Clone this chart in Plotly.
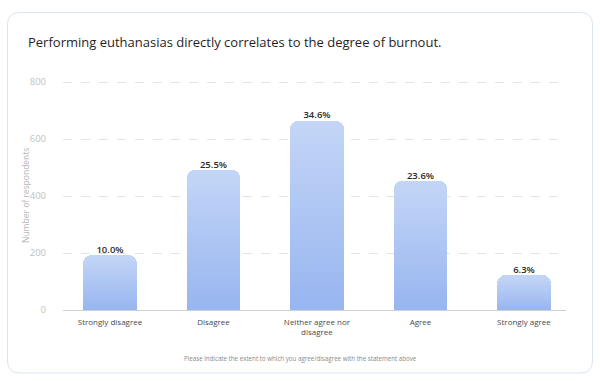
import plotly.graph_objects as go

categories = ["Strongly disagree", "Disagree", "Neither agree nor<br>disagree", "Agree", "Strongly agree"]
respondents = [192, 490, 664, 453, 121]
percent_labels = ["10.0%", "25.5%", "34.6%", "23.6%", "6.3%"]
y_ticks = [0, 200, 400, 600, 800]

TITLE = "Performing euthanasias directly correlates to the degree of burnout."
X_TITLE = "Please indicate the extent to which you agree/disagree with the statement above"
Y_TITLE = "Number of respondents"

W, H = 600, 381
L, R, T, B = 63, 34, 79, 71
FONT = "Open Sans"
Y_MAX = 800 * 231 / 228

xs = list(range(len(categories)))

def lerp(c1, c2, t):
    return "rgb(%d,%d,%d)" % tuple(round(a + (b - a) * t) for a, b in zip(c1, c2))

bottom_col = (151, 181, 239)
top_col = (196, 214, 247)
NSEG = 24

fig = go.Figure()
for i in range(NSEG):
    t = (i + 0.5) / NSEG
    fig.add_trace(go.Bar(
        x=xs, y=[v / NSEG for v in respondents],
        width=0.52, marker=dict(color=lerp(bottom_col, top_col, t), line=dict(width=0)),
        showlegend=False, hoverinfo="skip"))

fig.add_trace(go.Scatter(
    x=xs, y=respondents, mode="text", text=percent_labels,
    textposition="top center",
    textfont=dict(family=FONT, size=9.5, color="#2b2b2b", weight=600),
    showlegend=False, hoverinfo="skip", cliponaxis=False))

pw = W - L - R
ph = H - T - B

def px(x):
    return (x - L) / pw

def py(y):
    return (H - B - y) / ph

x0, y0, x1, y1, r = 7.5, 12.5, 592.5, 373, 12
path = (f"M {px(x0 + r)},{py(y0)} L {px(x1 - r)},{py(y0)} Q {px(x1)},{py(y0)} {px(x1)},{py(y0 + r)} "
        f"L {px(x1)},{py(y1 - r)} Q {px(x1)},{py(y1)} {px(x1 - r)},{py(y1)} "
        f"L {px(x0 + r)},{py(y1)} Q {px(x0)},{py(y1)} {px(x0)},{py(y1 - r)} "
        f"L {px(x0)},{py(y0 + r)} Q {px(x0)},{py(y0)} {px(x0 + r)},{py(y0)} Z")

fig.update_layout(
    width=W, height=H,
    margin=dict(l=L, r=R, t=T, b=B),
    paper_bgcolor="white", plot_bgcolor="white",
    barmode="stack", bargap=0, barcornerradius=8,
    font=dict(family=FONT),
    title=dict(text=TITLE, xref="container", yref="container", x=28 / W, y=1 - 42 / H,
               xanchor="left", yanchor="middle",
               font=dict(family=FONT, size=13, color="#1f1f1f")),
    xaxis=dict(range=[-0.454, 4.406], tickmode="array", tickvals=xs, ticktext=categories,
               showline=True, linecolor="#d0d0d0", linewidth=1, showgrid=False, zeroline=False,
               ticks="", ticklabelstandoff=4,
               tickfont=dict(family=FONT, size=8, color="#4a4a4a")),
    yaxis=dict(range=[0, Y_MAX], tickmode="array", tickvals=y_ticks, showline=False,
               showgrid=True, gridcolor="#e4e4e4", griddash="dash", gridwidth=1, zeroline=False,
               ticks="", ticklabelstandoff=16,
               tickfont=dict(family=FONT, size=9.5, color="#c2c2c2")),
    shapes=[dict(type="path", path=path, xref="paper", yref="paper",
                 line=dict(color="#dbe4f3", width=1), fillcolor="rgba(0,0,0,0)", layer="below")],
    annotations=[
        dict(text=X_TITLE, xref="paper", yref="paper", x=px(300), y=py(358),
             xanchor="center", yanchor="middle", showarrow=False,
             font=dict(family=FONT, size=6.2, color="#8a8a8a")),
        dict(text=Y_TITLE, xref="paper", yref="paper", x=px(25), y=py(196), textangle=-90,
             xanchor="center", yanchor="middle", showarrow=False,
             font=dict(family=FONT, size=8.5, color="#b5b5b5")),
    ],
)

fig.write_html("out.html", config={"displayModeBar": False},
               post_script="document.body.style.margin='0';")
